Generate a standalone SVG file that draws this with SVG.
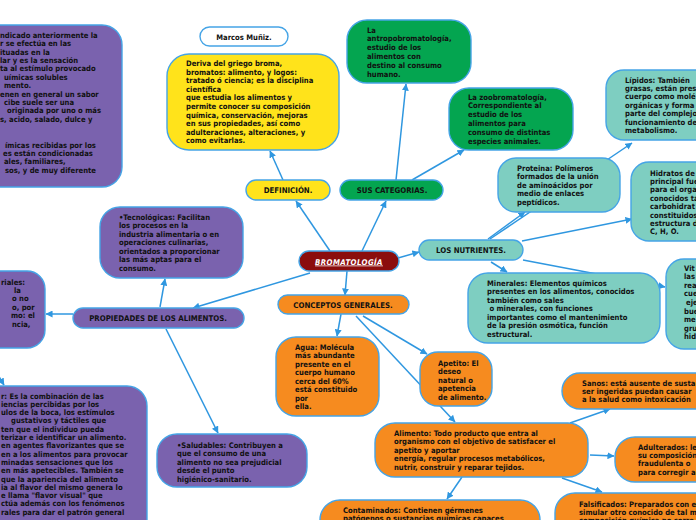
<svg xmlns="http://www.w3.org/2000/svg" width="696" height="520" viewBox="0 0 696 520">
<defs>
<marker id="ah" viewBox="0 0 8 8" refX="7.5" refY="4" markerWidth="7" markerHeight="7" markerUnits="userSpaceOnUse" orient="auto">
<path d="M0,0 L8,4 L0,8 z" fill="#2f97e0"/>
</marker>
<style>
.bx{stroke:#45a4e6;stroke-width:1.4}
.pur{fill:#7a62ae}
.yel{fill:#ffe31b}
.grn{fill:#04a550}
.tea{fill:#7ecec1}
.org{fill:#f68b1f}
.wht{fill:#ffffff}
.red{fill:#8b0d0d}
.t{font-family:"DejaVu Sans Condensed","DejaVu Sans",sans-serif;font-weight:bold;font-size:7.6px;fill:#111;font-stretch:condensed}
.h{font-family:"DejaVu Sans Condensed","DejaVu Sans",sans-serif;font-weight:bold;font-size:7.8px;fill:#111;text-anchor:middle;font-stretch:condensed}
.c{stroke:#2f97e0;stroke-width:1.5;fill:none;marker-end:url(#ah)}
</style>
</defs>
<rect width="696" height="520" fill="#ffffff"/>

<g id="connectors">
<line class="c" x1="330" y1="251" x2="296" y2="201"/>
<line class="c" x1="362" y1="251" x2="386" y2="201"/>
<line class="c" x1="283" y1="180" x2="270" y2="151"/>
<line class="c" x1="396" y1="180" x2="406" y2="84"/>
<line class="c" x1="412" y1="180" x2="464" y2="150"/>
<line class="c" x1="398" y1="258" x2="419" y2="252"/>
<line class="c" x1="347" y1="271" x2="345" y2="295"/>
<line class="c" x1="310" y1="273" x2="193" y2="308"/>
<line class="c" x1="160" y1="307" x2="165" y2="279"/>
<line class="c" x1="166" y1="329" x2="218" y2="433"/>
<line class="c" x1="73" y1="314" x2="46" y2="314"/>
<line class="c" x1="-6" y1="368" x2="4" y2="385"/>
<line class="c" x1="341" y1="314" x2="337" y2="336"/>
<line class="c" x1="363" y1="316" x2="427" y2="354"/>
<line class="c" x1="356" y1="316" x2="455" y2="422"/>
<line class="c" x1="462" y1="477" x2="447" y2="499"/>
<line class="c" x1="570" y1="423" x2="610" y2="409"/>
<line class="c" x1="590" y1="455" x2="614" y2="456"/>
<line class="c" x1="562" y1="478" x2="602" y2="492"/>
<line class="c" x1="488" y1="239" x2="525" y2="212"/>
<line class="c" x1="490" y1="239" x2="632" y2="143"/>
<line class="c" x1="522" y1="241" x2="632" y2="219"/>
<line class="c" x1="491" y1="262" x2="507" y2="272"/>
<line class="c" x1="523" y1="260" x2="665" y2="287"/>
</g>

<g id="gusto">
<rect class="bx pur" x="-30" y="25" width="152" height="162" rx="20"/>
<text class="t"><tspan x="0" y="37.5">ndicado anteriormente la</tspan><tspan x="0" y="46">r se efectúa en las</tspan><tspan x="0" y="54.5">ituadas en la</tspan><tspan x="0" y="62.5">lar y es la sensación</tspan><tspan x="0" y="71">ta al estímulo provocado</tspan><tspan x="4" y="79.5">uímicas solubles</tspan><tspan x="4" y="88">mento.</tspan><tspan x="0" y="96.5">enen en general un sabor</tspan><tspan x="4" y="105">cibe suele ser una</tspan><tspan x="7" y="113">originada por uno o más</tspan><tspan x="0" y="121.5">s, acido, salado, dulce y</tspan><tspan x="5" y="147.5">ímicas recibidas por los</tspan><tspan x="3" y="156">es están condicionadas</tspan><tspan x="4" y="164">ales, familiares,</tspan><tspan x="5" y="172.5">sos, y de muy diferente</tspan></text>
</g>

<g id="autor">
<rect class="bx wht" x="200" y="27" width="88" height="19" rx="9.5"/>
<text class="h" x="244" y="39.5" style="font-size:7.6px">Marcos Muñiz.</text>
</g>

<g id="deriva">
<rect class="bx yel" x="167" y="54" width="172" height="96" rx="22"/>
<text class="t"><tspan x="186" y="66">Deriva del griego broma,</tspan><tspan x="186" y="74.6">bromatos: alimento, y logos:</tspan><tspan x="186" y="83.2">tratado ó ciencia; es la disciplina</tspan><tspan x="186" y="91.8">científica</tspan><tspan x="186" y="100.4">que estudia los alimentos y</tspan><tspan x="186" y="109">permite conocer su composición</tspan><tspan x="186" y="117.6">química, conservación, mejoras</tspan><tspan x="186" y="126.2">en sus propiedades, así como</tspan><tspan x="186" y="134.8">adulteraciones, alteraciones, y</tspan><tspan x="186" y="143.4">como evitarlas.</tspan></text>
</g>

<g id="antropo">
<rect class="bx grn" x="347" y="20" width="124" height="63" rx="20"/>
<text class="t"><tspan x="367" y="32.5">La</tspan><tspan x="367" y="41.3">antropobromatología,</tspan><tspan x="367" y="50.1">estudio de los</tspan><tspan x="367" y="58.9">alimentos con</tspan><tspan x="367" y="67.7">destino al consumo</tspan><tspan x="367" y="76.5">humano.</tspan></text>
</g>

<g id="zoo">
<rect class="bx grn" x="449" y="88" width="124" height="62" rx="20"/>
<text class="t"><tspan x="468" y="99.5">La zoobromatología,</tspan><tspan x="468" y="108.3">Correspondiente al</tspan><tspan x="468" y="117.1">estudio de los</tspan><tspan x="468" y="125.9">alimentos para</tspan><tspan x="468" y="134.7">consumo de distintas</tspan><tspan x="468" y="143.5">especies animales.</tspan></text>
</g>

<g id="definicion">
<rect class="bx yel" x="246" y="180" width="84" height="20" rx="10"/>
<text class="h" x="288" y="193">DEFINICIÓN.</text>
</g>

<g id="categorias">
<rect class="bx grn" x="340" y="180" width="103" height="20" rx="10"/>
<text class="h" x="392" y="193">SUS CATEGORIAS.</text>
</g>

<g id="bromatologia">
<rect class="bx red" x="299" y="251" width="100" height="20" rx="10"/>
<text x="349" y="264.5" font-family="DejaVu Sans Condensed, DejaVu Sans, sans-serif" font-weight="bold" font-style="italic" font-size="7.8" fill="#ffffff" text-anchor="middle" text-decoration="underline" letter-spacing="0.4">BROMATOLOGÍA</text>
</g>

<g id="lipidos">
<rect class="bx tea" x="606" y="70" width="130" height="70" rx="18"/>
<text class="t"><tspan x="625" y="82.5">Lípidos:  También</tspan><tspan x="625" y="90.9">grasas, están pres</tspan><tspan x="625" y="99.3">cuerpo como molé</tspan><tspan x="625" y="107.7">orgánicas y forma</tspan><tspan x="625" y="116.1">parte del complejo</tspan><tspan x="625" y="124.5">funcionamiento de</tspan><tspan x="625" y="133.2">metabolismo.</tspan></text>
</g>

<g id="proteina">
<rect class="bx tea" x="498" y="158" width="122" height="54" rx="18"/>
<text class="t"><tspan x="517" y="170.5">Proteina: Polímeros</tspan><tspan x="517" y="179">formados de la unión</tspan><tspan x="517" y="187.5">de aminoácidos por</tspan><tspan x="517" y="196">medio de enlaces</tspan><tspan x="517" y="204.5">peptídicos.</tspan></text>
</g>

<g id="hidratos">
<rect class="bx tea" x="631" y="162" width="100" height="79" rx="18"/>
<text class="t"><tspan x="650" y="175.5">Hidratos de</tspan><tspan x="650" y="183.9">principal fue</tspan><tspan x="650" y="192.3">para el orga</tspan><tspan x="650" y="200.7">conocidos ta</tspan><tspan x="650" y="209.1">carbohidrat</tspan><tspan x="650" y="217.5">constituidos</tspan><tspan x="650" y="225.9">estructura d</tspan><tspan x="650" y="234.3">C, H, O.</tspan></text>
</g>

<g id="nutrientes">
<rect class="bx tea" x="419" y="240" width="104" height="20" rx="10"/>
<text class="h" x="471" y="252.5">LOS NUTRIENTES.</text>
</g>

<g id="minerales">
<rect class="bx tea" x="468" y="273" width="192" height="70" rx="20"/>
<text class="t"><tspan x="487" y="285.5">Minerales: Elementos químicos</tspan><tspan x="487" y="294">presentes en los alimentos, conocidos</tspan><tspan x="487" y="302.5">también como sales</tspan><tspan x="487" y="311"> o minerales, con funciones</tspan><tspan x="487" y="319.5">importantes como el mantenimiento</tspan><tspan x="487" y="328">de la presión osmótica, función</tspan><tspan x="487" y="336.5">estructural.</tspan></text>
</g>

<g id="vitaminas">
<rect class="bx tea" x="666" y="259" width="60" height="90" rx="18"/>
<text class="t"><tspan x="684" y="270.5">Vit</tspan><tspan x="684" y="279.1">las</tspan><tspan x="684" y="287.7">rea</tspan><tspan x="684" y="296.3">cue</tspan><tspan x="686" y="304.9">eje</tspan><tspan x="684" y="313.5">bue</tspan><tspan x="684" y="322.1">me</tspan><tspan x="684" y="330.7">gru</tspan><tspan x="684" y="339.3">hid</tspan></text>
</g>

<g id="tecnologicas">
<rect class="bx pur" x="100" y="207" width="143" height="71" rx="20"/>
<text class="t"><tspan x="119" y="219.5">•Tecnológicas: Facilitan</tspan><tspan x="119" y="228">los procesos en la</tspan><tspan x="119" y="236.5">industria alimentaria o en</tspan><tspan x="119" y="245">operaciones culinarias,</tspan><tspan x="119" y="253.5">orientados a proporcionar</tspan><tspan x="119" y="262">las más aptas para el</tspan><tspan x="119" y="270.5">consumo.</tspan></text>
</g>

<g id="propiedades">
<rect class="bx pur" x="73" y="308" width="171" height="20" rx="10"/>
<text class="h" x="158" y="321">PROPIEDADES DE LOS ALIMENTOS.</text>
</g>

<g id="sensoriales">
<rect class="bx pur" x="-40" y="271" width="85" height="77" rx="18"/>
<text class="t"><tspan x="1" y="284.5">riales:</tspan><tspan x="14" y="292.5">la</tspan><tspan x="12" y="301">o no</tspan><tspan x="12" y="309.5">o, por</tspan><tspan x="11" y="318">mo: el</tspan><tspan x="12" y="326.5">ncia,</tspan></text>
</g>

<g id="flavor">
<rect class="bx pur" x="-30" y="386" width="177" height="160" rx="20"/>
<text class="t"><tspan x="1" y="398.5">r:  Es la combinación de las</tspan><tspan x="1" y="406.8">iencias percibidas por los</tspan><tspan x="1" y="415.1">ulos de la boca, los estímulos</tspan><tspan x="11" y="423.4">gustativos y táctiles que</tspan><tspan x="1" y="431.7">ten que el individuo pueda</tspan><tspan x="1" y="440">terizar e identificar un alimento.</tspan><tspan x="1" y="448.3">en agentes flavorizantes que se</tspan><tspan x="1" y="456.6">en a los alimentos para provocar</tspan><tspan x="1" y="464.9">minadas sensaciones que los</tspan><tspan x="1" y="473.2">en más apetecibles. También se</tspan><tspan x="1" y="481.5">que la apariencia del alimento</tspan><tspan x="1" y="489.8">ia al flavor del mismo genera lo</tspan><tspan x="1" y="498.1">e llama "flavor visual" que</tspan><tspan x="1" y="506.4">ctúa además con los fenómenos</tspan><tspan x="1" y="514.7">rales para dar el patrón general</tspan></text>
</g>

<g id="saludables">
<rect class="bx pur" x="157" y="434" width="150" height="53" rx="20"/>
<text class="t"><tspan x="177" y="447.5">•Saludables: Contribuyen a</tspan><tspan x="177" y="456">que el consumo de una</tspan><tspan x="177" y="464.5">alimento no sea prejudicial</tspan><tspan x="177" y="473">desde el punto</tspan><tspan x="177" y="481.5">higiénico-sanitario.</tspan></text>
</g>

<g id="conceptos">
<rect class="bx org" x="278" y="295" width="131" height="19" rx="9.5"/>
<text class="h" x="343" y="307.5">CONCEPTOS GENERALES.</text>
</g>

<g id="agua">
<rect class="bx org" x="276" y="337" width="103" height="79" rx="20"/>
<text class="t"><tspan x="295" y="349.5">Agua: Molécula</tspan><tspan x="295" y="358">más abundante</tspan><tspan x="295" y="366.5">presente en el</tspan><tspan x="295" y="375">cuerpo humano</tspan><tspan x="295" y="383.5">cerca del 60%</tspan><tspan x="295" y="392">está constituido</tspan><tspan x="295" y="400.5">por</tspan><tspan x="295" y="409">ella.</tspan></text>
</g>

<g id="apetito">
<rect class="bx org" x="420" y="352" width="72" height="54" rx="18"/>
<text class="t"><tspan x="438" y="365.5">Apetito: El</tspan><tspan x="438" y="374">deseo</tspan><tspan x="438" y="382.5">natural o</tspan><tspan x="438" y="391">apetencia</tspan><tspan x="438" y="399.5">de alimento.</tspan></text>
</g>

<g id="alimento">
<rect class="bx org" x="375" y="423" width="213" height="54" rx="20"/>
<text class="t"><tspan x="394" y="435.5">Alimento: Todo producto que entra al</tspan><tspan x="394" y="444">organismo con el objetivo de satisfacer el</tspan><tspan x="394" y="452.5">apetito y aportar</tspan><tspan x="394" y="461">energía, regular procesos metabólicos,</tspan><tspan x="394" y="469.5">nutrir, construir y reparar tejidos.</tspan></text>
</g>

<g id="sanos">
<rect class="bx org" x="562" y="373" width="160" height="36" rx="18"/>
<text class="t"><tspan x="582" y="385.5">Sanos: está ausente de susta</tspan><tspan x="582" y="393.5">ser ingeridas puedan causar</tspan><tspan x="582" y="401.5">a la salud como intoxicación</tspan></text>
</g>

<g id="adulterados">
<rect class="bx org" x="615" y="437" width="110" height="45" rx="20"/>
<text class="t"><tspan x="638" y="449.5">Adulterados: le</tspan><tspan x="638" y="457.8">su composición</tspan><tspan x="638" y="466.1">fraudulenta o</tspan><tspan x="638" y="475">para corregir a</tspan></text>
</g>

<g id="falsificados">
<rect class="bx org" x="555" y="493" width="170" height="50" rx="20"/>
<text class="t"><tspan x="579" y="506.5">Falsificados: Preparados con e</tspan><tspan x="579" y="514.5">simular otro conocido de tal m</tspan><tspan x="579" y="522.5">composición química no corre</tspan></text>
</g>

<g id="contaminados">
<rect class="bx org" x="320" y="500" width="220" height="40" rx="20"/>
<text class="t"><tspan x="343" y="512.5">Contaminados: Contienen gérmenes</tspan><tspan x="343" y="520.5">patógenos o sustancias químicas capaces</tspan></text>
</g>
</svg>
